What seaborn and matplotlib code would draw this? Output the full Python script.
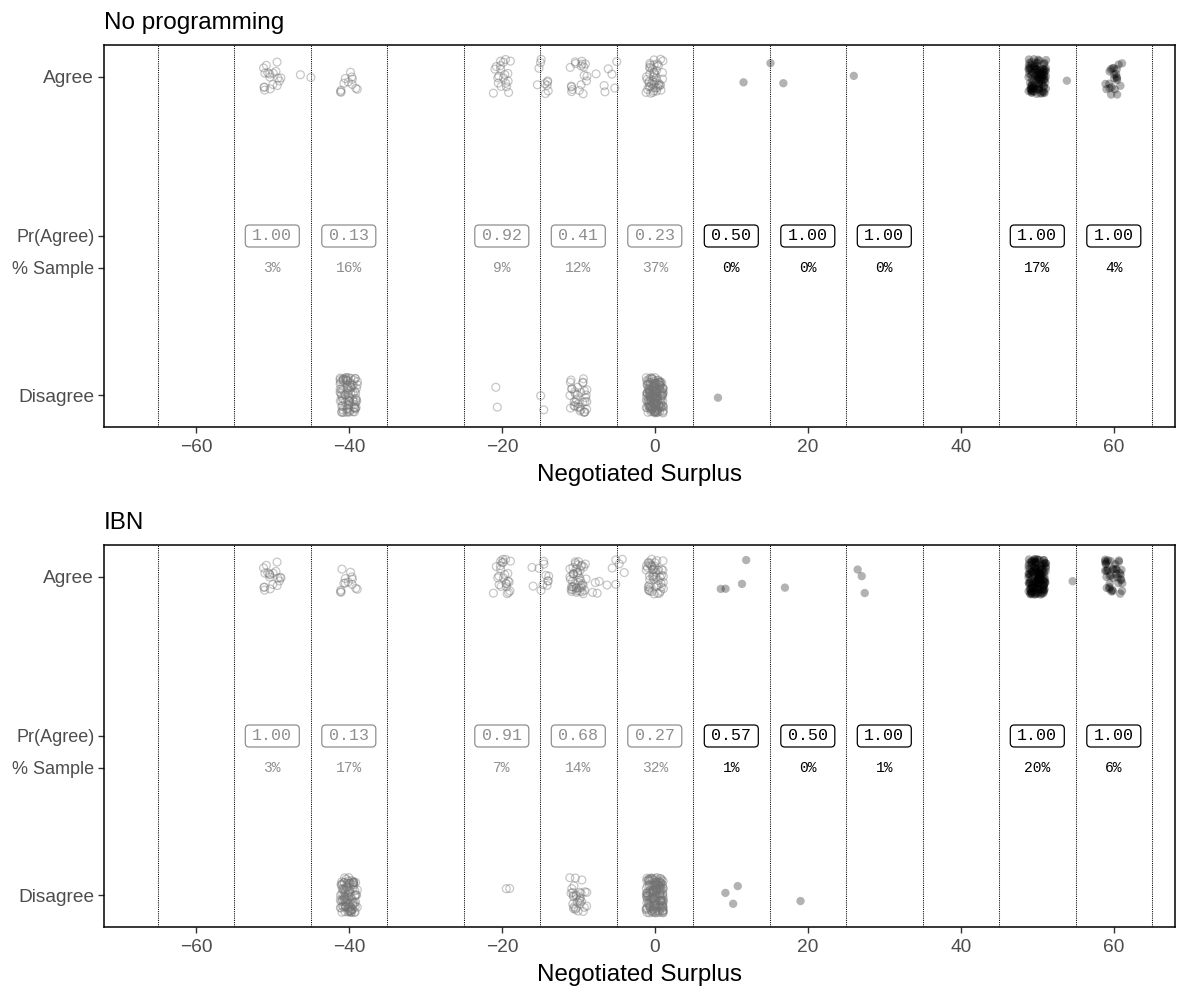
import numpy as np
import pandas as pd
import matplotlib
matplotlib.use("Agg")
import matplotlib.pyplot as plt
from matplotlib.patches import FancyBboxPatch
import seaborn as sns

# ---------------- data ----------------
bins = [-50, -40, -20, -10, 0, 10, 20, 30, 50, 60]
vlines = [-65, -55, -45, -35, -25, -15, -5, 5, 15, 25, 35, 45, 55, 65]

np_pr = ["1.00", "0.13", "0.92", "0.41", "0.23", "0.50", "1.00", "1.00", "1.00", "1.00"]
np_pct = ["3%", "16%", "9%", "12%", "37%", "0%", "0%", "0%", "17%", "4%"]
ibn_pr = ["1.00", "0.13", "0.91", "0.68", "0.27", "0.57", "0.50", "1.00", "1.00", "1.00"]
ibn_pct = ["3%", "17%", "7%", "14%", "32%", "1%", "0%", "1%", "20%", "6%"]

# groups of observations: surplus value and number of observations
np_agree_surplus = [-50, -46, -40, -20, -15, -10, -7, -5, 0, 10.5, 16, 26.7, 50, 54, 60]
np_agree_count = [18, 2, 12, 20, 10, 18, 3, 4, 45, 1, 2, 1, 100, 1, 22]
np_disagree_surplus = [-40, -20, -15.4, -14.2, -10, 0, 9.3]
np_disagree_count = [85, 2, 1, 1, 35, 170, 1]

ibn_agree_surplus = [-50, -40, -20, -15, -10, -7, -5, 0, 9, 10.8, 17.4, 26.5, 50, 55.3, 60]
ibn_agree_count = [20, 14, 25, 12, 45, 5, 6, 50, 2, 2, 1, 3, 135, 1, 40]
ibn_disagree_surplus = [-40, -20, -10, 0, 9, 10.7, 19.1]
ibn_disagree_count = [100, 2, 30, 160, 1, 2, 1]

ytick_pos = [1.0, 0.5, 0.4, 0.0]
ytick_lab = ["Agree", "Pr(Agree)", "% Sample", "Disagree"]


def hash01(i, a, b):
    # deterministic scrambled sequence used only for display jitter
    v = np.sin(i * a + b) * 43758.5453
    return v - np.floor(v)


def expand(agree_s, agree_c, dis_s, dis_c):
    rows = []
    k = 0
    for s, c in zip(agree_s, agree_c):
        for _ in range(c):
            rows.append((s, 1.0, k)); k += 1
    for s, c in zip(dis_s, dis_c):
        for _ in range(c):
            rows.append((s, 0.0, k)); k += 1
    df = pd.DataFrame(rows, columns=["surplus", "outcome", "idx"])
    i = df["idx"].to_numpy(dtype=float)
    u = hash01(i, 12.9898, 1.3)
    v = hash01(i, 78.233, 4.1)
    df["xj"] = df["surplus"] + (u - 0.5) * 2 * 1.15
    df["yj"] = df["outcome"] + (v - 0.5) * 2 * 0.056
    return df


panels = [
    ("No programming", expand(np_agree_surplus, np_agree_count, np_disagree_surplus, np_disagree_count), np_pr, np_pct),
    ("IBN", expand(ibn_agree_surplus, ibn_agree_count, ibn_disagree_surplus, ibn_disagree_count), ibn_pr, ibn_pct),
]

# ---------------- style ----------------
sns.set_theme(style="ticks")
plt.rcParams["font.family"] = ["Liberation Sans", "DejaVu Sans"]

W, H = 1204, 986
fig = plt.figure(figsize=(W / 100, H / 100), dpi=100)
ax_boxes = [
    [104 / W, 1 - 427 / H, (1175 - 104) / W, (427 - 45) / H],
    [104 / W, 1 - 927 / H, (1175 - 104) / W, (927 - 545) / H],
]

XLIM = (-72, 68)
YLIM = (-0.1, 1.1)
ax_w_px = 1175 - 104
ax_h_px = 427 - 45
px_x = (XLIM[1] - XLIM[0]) / ax_w_px   # data units per pixel (x)
px_y = (YLIM[1] - YLIM[0]) / ax_h_px   # data units per pixel (y)
box_w_px, box_h_px, box_r_px = 54, 22, 4

grey_txt = "#8f8f8f"
for (title, df, pr, pct), box in zip(panels, ax_boxes):
    ax = fig.add_axes(box)
    for v in vlines:
        ax.axvline(v, color="black", lw=0.75, ls=(0, (1, 1.1)), zorder=1)
    neg = df[df["surplus"] <= 0]
    pos = df[df["surplus"] > 0]
    sns.scatterplot(data=neg, x="xj", y="yj", ax=ax, color="none",
                    edgecolor=(0.45, 0.45, 0.45, 0.4), linewidth=0.9, s=32, zorder=3)
    sns.scatterplot(data=pos, x="xj", y="yj", ax=ax, color=(0, 0, 0, 0.3),
                    edgecolor="none", linewidth=0, s=36, zorder=3)
    for b, p, q in zip(bins, pr, pct):
        col = grey_txt if b <= 0 else "black"
        bw, bh = box_w_px * px_x, box_h_px * px_y
        patch = FancyBboxPatch((b - bw / 2, 0.5 - bh / 2), bw, bh,
                               boxstyle=f"round,pad=0,rounding_size={box_r_px * px_x}",
                               mutation_aspect=px_y / px_x,
                               fc="white", ec=col, lw=0.9, zorder=4)
        ax.add_patch(patch)
        ax.text(b, 0.5, p, ha="center", va="center", fontsize=12,
                family="Liberation Mono", color=col, zorder=5)
        ax.text(b, 0.4, q, ha="center", va="center", fontsize=10.5,
                family="Liberation Mono", color=col, zorder=5)
    ax.set_xlim(*XLIM)
    ax.set_ylim(*YLIM)
    ax.set_xticks([-60, -40, -20, 0, 20, 40, 60])
    ax.set_xticklabels(["\u221260", "\u221240", "\u221220", "0", "20", "40", "60"])
    ax.set_yticks(ytick_pos)
    ax.set_yticklabels(ytick_lab)
    ax.tick_params(axis="both", length=4.5, width=1.0, color="#333333",
                   labelcolor="#4d4d4d", labelsize=13.8)
    ax.tick_params(axis="y", pad=2.5)
    ax.tick_params(axis="x", pad=4)
    for lab in ax.get_yticklabels():
        if lab.get_text() in ("Pr(Agree)", "% Sample"):
            lab.set_fontsize(13.0)
    for sp in ax.spines.values():
        sp.set_visible(True)
        sp.set_color("black")
        sp.set_linewidth(1.1)
    ax.set_ylabel("")
    ax.set_xlabel("Negotiated Surplus", fontsize=17.4, color="black", labelpad=6)
    ax.set_title(title, loc="left", fontsize=17.5, pad=11.5, color="black")

fig.savefig("out.png", dpi=100)
